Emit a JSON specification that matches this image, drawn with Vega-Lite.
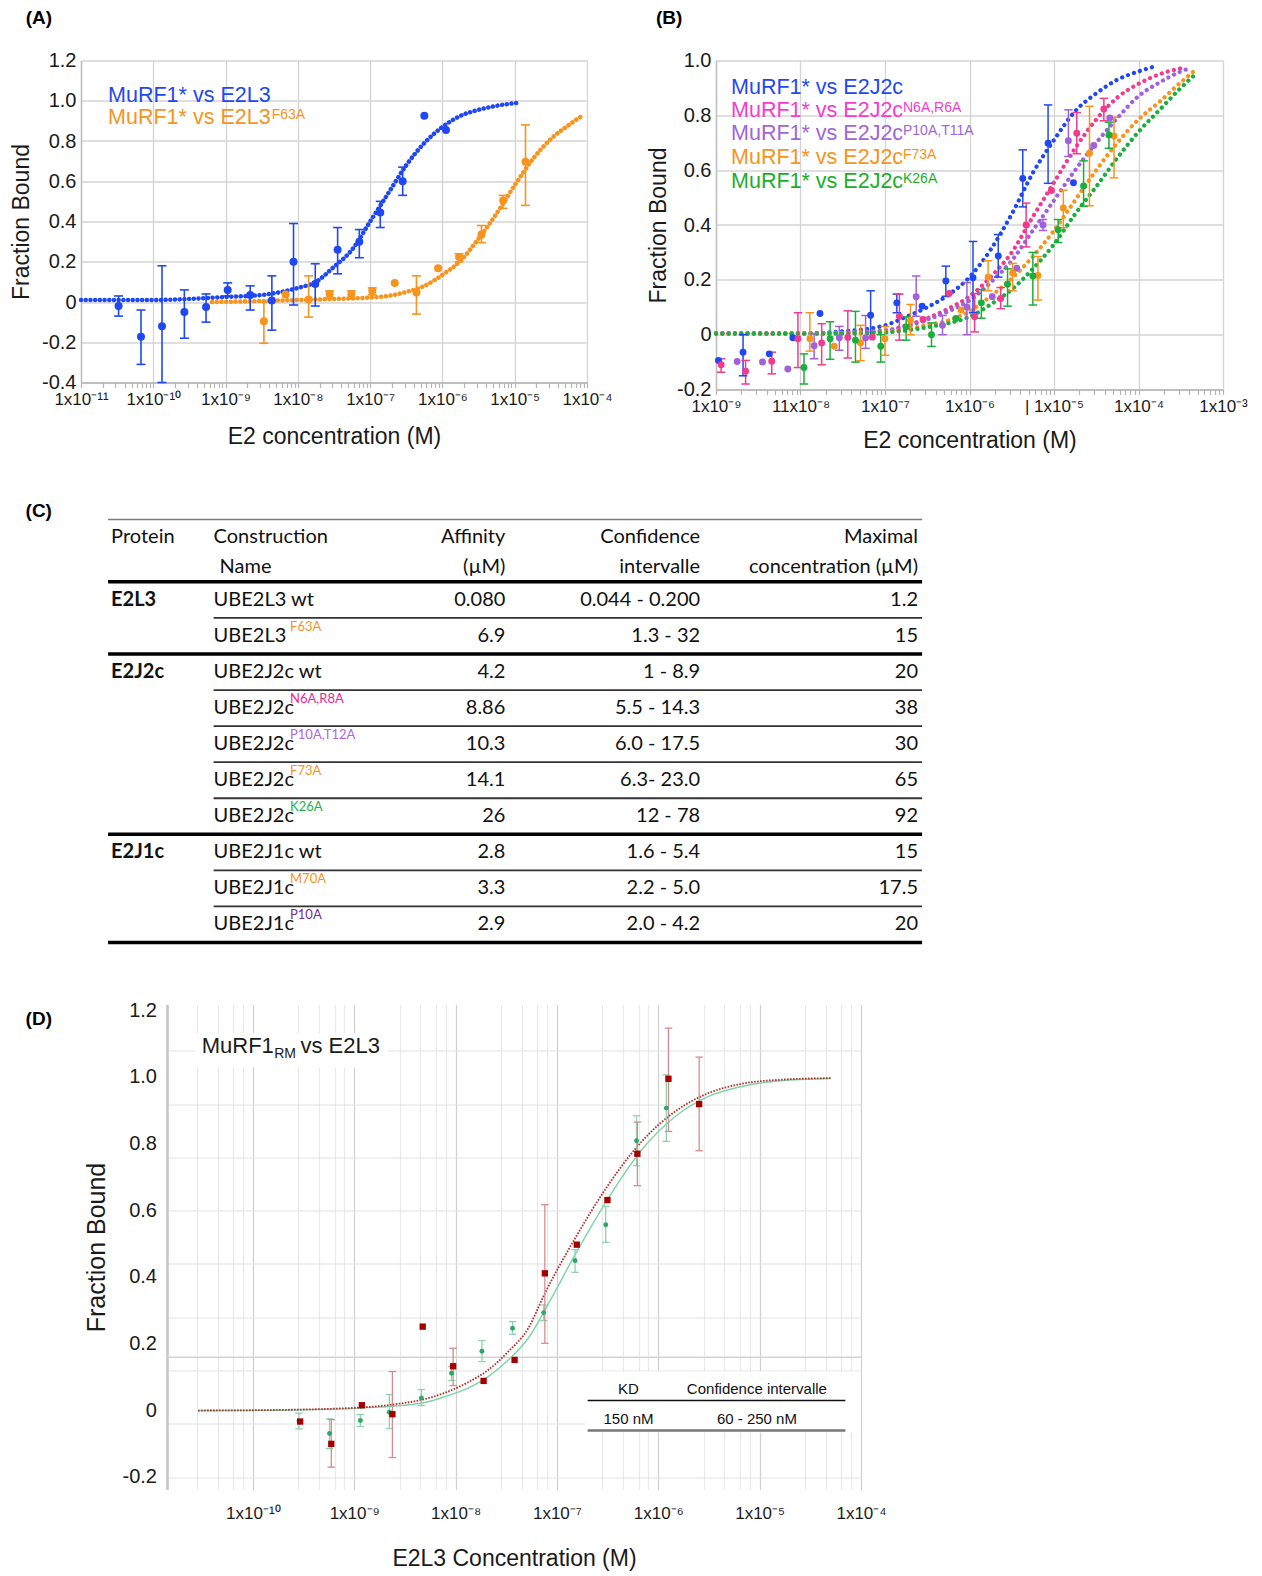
{
"$schema": "https://vega.github.io/schema/vega-lite/v6.json",
"background": "white",
"padding": {"left": 10, "top": 8.5, "right": 0, "bottom": 0},
"spacing": 49,
"columns": 1,
"resolve": {"scale": {"color": "independent", "x": "independent", "y": "independent"}},
"config": {
  "view": {"stroke": null},
  "font": "Liberation Sans",
  "axis": {"labelFont": "Liberation Sans", "titleFont": "Liberation Sans", "titleFontWeight": "normal", "labelColor": "#1a1a1a", "titleColor": "#1a1a1a", "labelOverlap": false, "labelFlush": false},
  "text": {"font": "Liberation Sans"}
},
"datasets": {
  "one": [{"k": 1}],
  "a_curve": [
    {"s":"E2L3","conc":1e-11,"f":0.01},{"s":"E2L3","conc":1e-10,"f":0.01},{"s":"E2L3","conc":3.162e-10,"f":0.015},{"s":"E2L3","conc":1e-9,"f":0.025},{"s":"E2L3","conc":3.162e-9,"f":0.035},{"s":"E2L3","conc":1e-8,"f":0.07},{"s":"E2L3","conc":1.778e-8,"f":0.1},{"s":"E2L3","conc":3.162e-8,"f":0.175},{"s":"E2L3","conc":5.623e-8,"f":0.26},{"s":"E2L3","conc":1e-7,"f":0.4},{"s":"E2L3","conc":1.778e-7,"f":0.54},{"s":"E2L3","conc":3.162e-7,"f":0.68},{"s":"E2L3","conc":5.623e-7,"f":0.79},{"s":"E2L3","conc":1e-6,"f":0.87},{"s":"E2L3","conc":1.778e-6,"f":0.925},{"s":"E2L3","conc":3.162e-6,"f":0.955},{"s":"E2L3","conc":5.623e-6,"f":0.975},{"s":"E2L3","conc":1e-5,"f":0.988},{"s":"E2L3","conc":1.122e-5,"f":0.99},
    {"s":"E2L3F63A","conc":6.5e-10,"f":0.0},{"s":"E2L3F63A","conc":3.162e-9,"f":0.005},{"s":"E2L3F63A","conc":1e-8,"f":0.01},{"s":"E2L3F63A","conc":3.162e-8,"f":0.015},{"s":"E2L3F63A","conc":1e-7,"f":0.022},{"s":"E2L3F63A","conc":1.778e-7,"f":0.03},{"s":"E2L3F63A","conc":3.162e-7,"f":0.05},{"s":"E2L3F63A","conc":5.623e-7,"f":0.08},{"s":"E2L3F63A","conc":1e-6,"f":0.135},{"s":"E2L3F63A","conc":1.778e-6,"f":0.205},{"s":"E2L3F63A","conc":3.162e-6,"f":0.315},{"s":"E2L3F63A","conc":5.623e-6,"f":0.44},{"s":"E2L3F63A","conc":1e-5,"f":0.58},{"s":"E2L3F63A","conc":1.778e-5,"f":0.71},{"s":"E2L3F63A","conc":3.162e-5,"f":0.81},{"s":"E2L3F63A","conc":5.623e-5,"f":0.88},{"s":"E2L3F63A","conc":8.913e-5,"f":0.93}
  ],
  "a_pts": [
    {"s":"E2L3","conc":3.31e-11,"f":-0.02,"lo":-0.07,"hi":0.03},
    {"s":"E2L3","conc":6.76e-11,"f":-0.173,"lo":-0.31,"hi":-0.04},
    {"s":"E2L3","conc":1.32e-10,"f":-0.12,"lo":-0.4,"hi":0.18},
    {"s":"E2L3","conc":2.69e-10,"f":-0.05,"lo":-0.18,"hi":0.06},
    {"s":"E2L3","conc":5.37e-10,"f":-0.025,"lo":-0.1,"hi":0.04},
    {"s":"E2L3","conc":1.07e-9,"f":0.06,"lo":0.03,"hi":0.095},
    {"s":"E2L3","conc":2.19e-9,"f":0.035,"lo":-0.04,"hi":0.08},
    {"s":"E2L3","conc":4.37e-9,"f":0.008,"lo":-0.14,"hi":0.13},
    {"s":"E2L3","conc":8.71e-9,"f":0.2,"lo":-0.015,"hi":0.39},
    {"s":"E2L3","conc":1.74e-8,"f":0.09,"lo":-0.02,"hi":0.19},
    {"s":"E2L3","conc":3.55e-8,"f":0.26,"lo":0.14,"hi":0.37},
    {"s":"E2L3","conc":7.08e-8,"f":0.3,"lo":0.22,"hi":0.36},
    {"s":"E2L3","conc":1.38e-7,"f":0.445,"lo":0.37,"hi":0.5},
    {"s":"E2L3","conc":2.82e-7,"f":0.6,"lo":0.53,"hi":0.67},
    {"s":"E2L3","conc":5.62e-7,"f":0.925},
    {"s":"E2L3","conc":1.12e-6,"f":0.855},
    {"s":"E2L3F63A","conc":3.39e-9,"f":-0.096,"lo":-0.205,"hi":0.0},
    {"s":"E2L3F63A","conc":6.76e-9,"f":0.037},
    {"s":"E2L3F63A","conc":1.41e-8,"f":0.012,"lo":-0.075,"hi":0.13},
    {"s":"E2L3F63A","conc":2.75e-8,"f":0.038,"lo":0.02,"hi":0.055},
    {"s":"E2L3F63A","conc":5.5e-8,"f":0.038,"lo":0.015,"hi":0.055},
    {"s":"E2L3F63A","conc":1.07e-7,"f":0.055,"lo":0.035,"hi":0.07},
    {"s":"E2L3F63A","conc":2.19e-7,"f":0.095},
    {"s":"E2L3F63A","conc":4.37e-7,"f":0.047,"lo":-0.06,"hi":0.13},
    {"s":"E2L3F63A","conc":8.71e-7,"f":0.168},
    {"s":"E2L3F63A","conc":1.7e-6,"f":0.223,"lo":0.2,"hi":0.24},
    {"s":"E2L3F63A","conc":3.47e-6,"f":0.336,"lo":0.295,"hi":0.38},
    {"s":"E2L3F63A","conc":6.92e-6,"f":0.504,"lo":0.465,"hi":0.53},
    {"s":"E2L3F63A","conc":1.41e-5,"f":0.697,"lo":0.48,"hi":0.88}
  ],
  "b_curve": [
    {"s":"wt","conc":1e-9,"f":0.005},{"s":"wt","conc":1e-8,"f":0.005},{"s":"wt","conc":3.162e-8,"f":0.012},{"s":"wt","conc":1e-7,"f":0.034},{"s":"wt","conc":1.778e-7,"f":0.065},{"s":"wt","conc":3.162e-7,"f":0.1},{"s":"wt","conc":5.623e-7,"f":0.145},{"s":"wt","conc":1e-6,"f":0.21},{"s":"wt","conc":1.778e-6,"f":0.31},{"s":"wt","conc":3.162e-6,"f":0.44},{"s":"wt","conc":5.623e-6,"f":0.59},{"s":"wt","conc":1e-5,"f":0.71},{"s":"wt","conc":1.778e-5,"f":0.815},{"s":"wt","conc":3.162e-5,"f":0.88},{"s":"wt","conc":5.623e-5,"f":0.93},{"s":"wt","conc":1e-4,"f":0.96},{"s":"wt","conc":1.62e-4,"f":0.98},
    {"s":"N6A","conc":1e-9,"f":0.005},{"s":"N6A","conc":1e-8,"f":0.005},{"s":"N6A","conc":3.162e-8,"f":0.007},{"s":"N6A","conc":1e-7,"f":0.015},{"s":"N6A","conc":1.778e-7,"f":0.034},{"s":"N6A","conc":3.162e-7,"f":0.06},{"s":"N6A","conc":5.623e-7,"f":0.095},{"s":"N6A","conc":1e-6,"f":0.14},{"s":"N6A","conc":1.778e-6,"f":0.21},{"s":"N6A","conc":3.162e-6,"f":0.3},{"s":"N6A","conc":5.623e-6,"f":0.43},{"s":"N6A","conc":1e-5,"f":0.555},{"s":"N6A","conc":1.778e-5,"f":0.68},{"s":"N6A","conc":3.162e-5,"f":0.785},{"s":"N6A","conc":5.623e-5,"f":0.865},{"s":"N6A","conc":1e-4,"f":0.915},{"s":"N6A","conc":1.778e-4,"f":0.95},{"s":"N6A","conc":3.55e-4,"f":0.975},
    {"s":"P10A","conc":1e-9,"f":0.005},{"s":"P10A","conc":1e-8,"f":0.005},{"s":"P10A","conc":3.162e-8,"f":0.008},{"s":"P10A","conc":1e-7,"f":0.015},{"s":"P10A","conc":1.778e-7,"f":0.03},{"s":"P10A","conc":3.162e-7,"f":0.055},{"s":"P10A","conc":5.623e-7,"f":0.085},{"s":"P10A","conc":1e-6,"f":0.125},{"s":"P10A","conc":1.778e-6,"f":0.19},{"s":"P10A","conc":3.162e-6,"f":0.27},{"s":"P10A","conc":5.623e-6,"f":0.38},{"s":"P10A","conc":1e-5,"f":0.49},{"s":"P10A","conc":1.778e-5,"f":0.6},{"s":"P10A","conc":3.162e-5,"f":0.7},{"s":"P10A","conc":5.623e-5,"f":0.79},{"s":"P10A","conc":1e-4,"f":0.87},{"s":"P10A","conc":1.778e-4,"f":0.92},{"s":"P10A","conc":3.162e-4,"f":0.96},{"s":"P10A","conc":3.89e-4,"f":0.97},
    {"s":"F73A","conc":1e-9,"f":0.003},{"s":"F73A","conc":1e-8,"f":0.004},{"s":"F73A","conc":3.162e-8,"f":0.005},{"s":"F73A","conc":1e-7,"f":0.01},{"s":"F73A","conc":1.778e-7,"f":0.02},{"s":"F73A","conc":3.162e-7,"f":0.035},{"s":"F73A","conc":5.623e-7,"f":0.052},{"s":"F73A","conc":1e-6,"f":0.085},{"s":"F73A","conc":1.778e-6,"f":0.14},{"s":"F73A","conc":3.162e-6,"f":0.205},{"s":"F73A","conc":5.623e-6,"f":0.285},{"s":"F73A","conc":1e-5,"f":0.38},{"s":"F73A","conc":1.778e-5,"f":0.49},{"s":"F73A","conc":3.162e-5,"f":0.6},{"s":"F73A","conc":5.623e-5,"f":0.7},{"s":"F73A","conc":1e-4,"f":0.785},{"s":"F73A","conc":1.778e-4,"f":0.85},{"s":"F73A","conc":3.162e-4,"f":0.92},{"s":"F73A","conc":4.9e-4,"f":0.97},
    {"s":"K26A","conc":1e-9,"f":0.003},{"s":"K26A","conc":1e-8,"f":0.003},{"s":"K26A","conc":3.162e-8,"f":0.004},{"s":"K26A","conc":1e-7,"f":0.008},{"s":"K26A","conc":1.778e-7,"f":0.015},{"s":"K26A","conc":3.162e-7,"f":0.027},{"s":"K26A","conc":5.623e-7,"f":0.042},{"s":"K26A","conc":1e-6,"f":0.065},{"s":"K26A","conc":1.778e-6,"f":0.11},{"s":"K26A","conc":3.162e-6,"f":0.165},{"s":"K26A","conc":5.623e-6,"f":0.24},{"s":"K26A","conc":1e-5,"f":0.33},{"s":"K26A","conc":1.778e-5,"f":0.44},{"s":"K26A","conc":3.162e-5,"f":0.54},{"s":"K26A","conc":5.623e-5,"f":0.645},{"s":"K26A","conc":1e-4,"f":0.74},{"s":"K26A","conc":1.778e-4,"f":0.82},{"s":"K26A","conc":3.162e-4,"f":0.9},{"s":"K26A","conc":4.9e-4,"f":0.955}
  ],
  "b_pts": [
    {"s":"wt","conc":1.07e-9,"f":-0.094},
    {"s":"wt","conc":2.09e-9,"f":-0.064,"lo":-0.15,"hi":0.0},
    {"s":"wt","conc":4.27e-9,"f":-0.07},
    {"s":"wt","conc":8.13e-9,"f":-0.011},
    {"s":"wt","conc":1.7e-8,"f":0.077},
    {"s":"wt","conc":6.76e-8,"f":0.071,"lo":-0.01,"hi":0.16},
    {"s":"wt","conc":1.38e-7,"f":0.116,"lo":0.08,"hi":0.148},
    {"s":"wt","conc":2.75e-7,"f":0.104},
    {"s":"wt","conc":5.25e-7,"f":0.196,"lo":0.14,"hi":0.25},
    {"s":"wt","conc":1.1e-6,"f":0.208,"lo":0.08,"hi":0.34},
    {"s":"wt","conc":2.19e-6,"f":0.287,"lo":0.21,"hi":0.365},
    {"s":"wt","conc":4.27e-6,"f":0.57,"lo":0.466,"hi":0.674},
    {"s":"wt","conc":8.51e-6,"f":0.698,"lo":0.552,"hi":0.838},
    {"s":"wt","conc":1.7e-5,"f":0.554},
    {"s":"N6A","conc":1.15e-9,"f":-0.11,"lo":-0.137,"hi":-0.088},
    {"s":"N6A","conc":2.24e-9,"f":-0.133,"lo":-0.18,"hi":-0.094},
    {"s":"N6A","conc":4.57e-9,"f":-0.097,"lo":-0.143,"hi":-0.064},
    {"s":"N6A","conc":9.33e-9,"f":-0.015,"lo":-0.12,"hi":0.08},
    {"s":"N6A","conc":1.78e-8,"f":-0.03,"lo":-0.11,"hi":0.04},
    {"s":"N6A","conc":3.63e-8,"f":-0.01,"lo":-0.085,"hi":0.087},
    {"s":"N6A","conc":7.08e-8,"f":-0.009},
    {"s":"N6A","conc":1.48e-7,"f":0.067,"lo":-0.02,"hi":0.148},
    {"s":"N6A","conc":2.82e-7,"f":0.055},
    {"s":"N6A","conc":5.75e-7,"f":0.15},
    {"s":"N6A","conc":1.15e-6,"f":0.065,"lo":0.01,"hi":0.15},
    {"s":"N6A","conc":2.34e-6,"f":0.132,"lo":0.095,"hi":0.172},
    {"s":"N6A","conc":4.68e-6,"f":0.4,"lo":0.32,"hi":0.48},
    {"s":"N6A","conc":9.33e-6,"f":0.526},
    {"s":"N6A","conc":1.86e-5,"f":0.735,"lo":0.66,"hi":0.81},
    {"s":"N6A","conc":3.89e-5,"f":0.823,"lo":0.78,"hi":0.862},
    {"s":"P10A","conc":1.78e-9,"f":-0.098},
    {"s":"P10A","conc":3.55e-9,"f":-0.1},
    {"s":"P10A","conc":7.08e-9,"f":-0.125},
    {"s":"P10A","conc":1.45e-8,"f":-0.04,"lo":-0.088,"hi":0.004},
    {"s":"P10A","conc":2.88e-8,"f":-0.011,"lo":-0.057,"hi":0.03},
    {"s":"P10A","conc":5.89e-8,"f":-0.012,"lo":-0.05,"hi":0.07},
    {"s":"P10A","conc":2.34e-7,"f":0.138,"lo":0.067,"hi":0.214},
    {"s":"P10A","conc":4.79e-7,"f":0.034,"lo":0.0,"hi":0.07},
    {"s":"P10A","conc":9.33e-7,"f":0.1,"lo":0.0,"hi":0.19},
    {"s":"P10A","conc":1.86e-6,"f":0.138},
    {"s":"P10A","conc":3.63e-6,"f":0.242},
    {"s":"P10A","conc":7.41e-6,"f":0.4,"lo":0.38,"hi":0.42},
    {"s":"P10A","conc":1.48e-5,"f":0.707,"lo":0.65,"hi":0.82},
    {"s":"P10A","conc":2.95e-5,"f":0.69},
    {"s":"P10A","conc":4.57e-5,"f":0.79},
    {"s":"F73A","conc":1.29e-8,"f":-0.015,"lo":-0.06,"hi":0.08},
    {"s":"F73A","conc":2.51e-8,"f":-0.042},
    {"s":"F73A","conc":5.13e-8,"f":-0.03,"lo":-0.095,"hi":0.034},
    {"s":"F73A","conc":1e-7,"f":-0.015,"lo":-0.075,"hi":0.03},
    {"s":"F73A","conc":2e-7,"f":0.053,"lo":0.0,"hi":0.11},
    {"s":"F73A","conc":7.94e-7,"f":0.09},
    {"s":"F73A","conc":1.66e-6,"f":0.21,"lo":0.16,"hi":0.27},
    {"s":"F73A","conc":3.24e-6,"f":0.225,"lo":0.16,"hi":0.26},
    {"s":"F73A","conc":6.46e-6,"f":0.216,"lo":0.126,"hi":0.285},
    {"s":"F73A","conc":1.29e-5,"f":0.462,"lo":0.39,"hi":0.527},
    {"s":"F73A","conc":2.63e-5,"f":0.662,"lo":0.47,"hi":0.833},
    {"s":"F73A","conc":5.13e-5,"f":0.725,"lo":0.572,"hi":0.793},
    {"s":"K26A","conc":1.1e-8,"f":-0.12,"lo":-0.18,"hi":-0.07},
    {"s":"K26A","conc":2.24e-8,"f":-0.015,"lo":-0.09,"hi":0.047},
    {"s":"K26A","conc":4.47e-8,"f":-0.02,"lo":-0.1,"hi":0.085},
    {"s":"K26A","conc":8.91e-8,"f":-0.042,"lo":-0.1,"hi":0.0},
    {"s":"K26A","conc":1.78e-7,"f":0.028,"lo":-0.02,"hi":0.065},
    {"s":"K26A","conc":3.55e-7,"f":0.0,"lo":-0.043,"hi":0.043},
    {"s":"K26A","conc":6.92e-7,"f":0.059},
    {"s":"K26A","conc":1.38e-6,"f":0.116,"lo":0.06,"hi":0.165},
    {"s":"K26A","conc":2.82e-6,"f":0.184,"lo":0.104,"hi":0.24},
    {"s":"K26A","conc":5.62e-6,"f":0.214,"lo":0.108,"hi":0.3},
    {"s":"K26A","conc":1.12e-5,"f":0.383,"lo":0.336,"hi":0.42},
    {"s":"K26A","conc":2.24e-5,"f":0.542,"lo":0.468,"hi":0.634},
    {"s":"K26A","conc":4.47e-5,"f":0.728,"lo":0.68,"hi":0.775}
  ],
  "c_rows": [
    {"row":1,"protein":"E2L3","construct":"UBE2L3 wt","mut":"","aff":"0.080","ci":"0.044 - 0.200","maxc":"1.2","sep":"thin"},
    {"row":2,"protein":"","construct":"UBE2L3","mut":"F63A","aff":"6.9","ci":"1.3 - 32","maxc":"15","sep":"thick"},
    {"row":3,"protein":"E2J2c","construct":"UBE2J2c wt","mut":"","aff":"4.2","ci":"1 - 8.9","maxc":"20","sep":"thin"},
    {"row":4,"protein":"","construct":"UBE2J2c","mut":"N6A,R8A","aff":"8.86","ci":"5.5 - 14.3","maxc":"38","sep":"thin"},
    {"row":5,"protein":"","construct":"UBE2J2c","mut":"P10A,T12A","aff":"10.3","ci":"6.0 - 17.5","maxc":"30","sep":"thin"},
    {"row":6,"protein":"","construct":"UBE2J2c","mut":"F73A","aff":"14.1","ci":"6.3- 23.0","maxc":"65","sep":"thin"},
    {"row":7,"protein":"","construct":"UBE2J2c","mut":" K26A","aff":"26","ci":"12 - 78","maxc":"92","sep":"thick"},
    {"row":8,"protein":"E2J1c","construct":"UBE2J1c wt","mut":"","aff":"2.8","ci":"1.6 - 5.4","maxc":"15","sep":"thin"},
    {"row":9,"protein":"","construct":"UBE2J1c","mut":"M70A","aff":"3.3","ci":"2.2 - 5.0","maxc":"17.5","sep":"thin"},
    {"row":10,"protein":"","construct":"UBE2J1c","mut":" P10A","aff":"2.9","ci":"2.0 - 4.2","maxc":"20","sep":"thick"}
  ],
  "d_curve": [
    {"s":"r","conc":2.88e-11,"f":0.0},{"s":"r","conc":1.91e-10,"f":0.002},{"s":"r","conc":1.26e-9,"f":0.01},{"s":"r","conc":2.71e-9,"f":0.02},{"s":"r","conc":4.6e-9,"f":0.032},{"s":"r","conc":8.45e-9,"f":0.057},{"s":"r","conc":1.33e-8,"f":0.085},{"s":"r","conc":2.1e-8,"f":0.122},{"s":"r","conc":3.31e-8,"f":0.177},{"s":"r","conc":5.21e-8,"f":0.247},{"s":"r","conc":7.6e-8,"f":0.352},{"s":"r","conc":1.51e-7,"f":0.517},{"s":"r","conc":3.22e-7,"f":0.678},{"s":"r","conc":6.87e-7,"f":0.808},{"s":"r","conc":1.47e-6,"f":0.898},{"s":"r","conc":3.13e-6,"f":0.953},{"s":"r","conc":6.68e-6,"f":0.981},{"s":"r","conc":1.58e-5,"f":0.993},{"s":"r","conc":5.01e-5,"f":0.998},
    {"s":"g","conc":2.88e-11,"f":0.0},{"s":"g","conc":1.91e-10,"f":0.001},{"s":"g","conc":1.26e-9,"f":0.008},{"s":"g","conc":4.6e-9,"f":0.022},{"s":"g","conc":8.45e-9,"f":0.045},{"s":"g","conc":1.33e-8,"f":0.067},{"s":"g","conc":2.1e-8,"f":0.102},{"s":"g","conc":3.31e-8,"f":0.152},{"s":"g","conc":5.21e-8,"f":0.217},{"s":"g","conc":8.22e-8,"f":0.32},{"s":"g","conc":1.51e-7,"f":0.468},{"s":"g","conc":3.22e-7,"f":0.638},{"s":"g","conc":6.87e-7,"f":0.783},{"s":"g","conc":1.47e-6,"f":0.883},{"s":"g","conc":3.13e-6,"f":0.943},{"s":"g","conc":6.68e-6,"f":0.973},{"s":"g","conc":1.58e-5,"f":0.99},{"s":"g","conc":5.01e-5,"f":0.997}
  ],
  "d_pts": [
    {"s":"g","conc":2.85e-10,"f":-0.031,"lo":-0.055,"hi":-0.008},
    {"s":"g","conc":5.71e-10,"f":-0.069,"lo":-0.114,"hi":-0.025},
    {"s":"g","conc":1.15e-9,"f":-0.03,"lo":-0.048,"hi":-0.012},
    {"s":"g","conc":2.22e-9,"f":-0.005,"lo":-0.054,"hi":0.048},
    {"s":"g","conc":4.6e-9,"f":0.038,"lo":0.015,"hi":0.063},
    {"s":"g","conc":9.12e-9,"f":0.112,"lo":0.09,"hi":0.132},
    {"s":"g","conc":1.82e-8,"f":0.178,"lo":0.147,"hi":0.21},
    {"s":"g","conc":3.65e-8,"f":0.247,"lo":0.229,"hi":0.267},
    {"s":"g","conc":7.4e-8,"f":0.294,"lo":0.27,"hi":0.317},
    {"s":"g","conc":1.51e-7,"f":0.45,"lo":0.415,"hi":0.483},
    {"s":"g","conc":3.03e-7,"f":0.558,"lo":0.505,"hi":0.613},
    {"s":"g","conc":6.1e-7,"f":0.81,"lo":0.735,"hi":0.885},
    {"s":"g","conc":1.2e-6,"f":0.908,"lo":0.808,"hi":1.008},
    {"s":"r","conc":2.93e-10,"f":-0.033},
    {"s":"r","conc":5.94e-10,"f":-0.1,"lo":-0.17,"hi":-0.027},
    {"s":"r","conc":1.19e-9,"f":0.016},
    {"s":"r","conc":2.38e-9,"f":-0.011,"lo":-0.141,"hi":0.117},
    {"s":"r","conc":4.74e-9,"f":0.252},
    {"s":"r","conc":9.46e-9,"f":0.133,"lo":0.075,"hi":0.187},
    {"s":"r","conc":1.89e-8,"f":0.089},
    {"s":"r","conc":3.82e-8,"f":0.152},
    {"s":"r","conc":7.6e-8,"f":0.412,"lo":0.202,"hi":0.618},
    {"s":"r","conc":1.57e-7,"f":0.498},
    {"s":"r","conc":3.15e-7,"f":0.632},
    {"s":"r","conc":6.22e-7,"f":0.771,"lo":0.675,"hi":0.866},
    {"s":"r","conc":1.26e-6,"f":0.996,"lo":0.838,"hi":1.148},
    {"s":"r","conc":2.53e-6,"f":0.92,"lo":0.78,"hi":1.061}
  ]
},
"concat": [
{
  "spacing": 34,
  "resolve": {"scale": {"color": "independent", "x": "independent", "y": "independent"}},
  "hconcat": [
  {
    "width": 506, "height": 322,
    "layer": [
      {"data": {"name": "a_curve"}, "mark": {"type": "line", "strokeWidth": 4.5, "strokeDash": [0.1, 4.6], "strokeCap": "round", "interpolate": "monotone"},
       "encoding": {
        "x": {"field": "conc", "type": "quantitative", "scale": {"type": "log", "domain": [1e-11, 1e-4], "nice": false},
          "axis": {"title": "E2 concentration (M)", "titleFontSize": 23, "titlePadding": 18, "labelOverlap": false,
            "values": [1e-11,2e-11,3e-11,4e-11,5e-11,6e-11,7e-11,8e-11,9e-11,1e-10,2e-10,3e-10,4e-10,5e-10,6e-10,7e-10,8e-10,9e-10,1e-9,2e-9,3e-9,4e-9,5e-9,6e-9,7e-9,8e-9,9e-9,1e-8,2e-8,3e-8,4e-8,5e-8,6e-8,7e-8,8e-8,9e-8,1e-7,2e-7,3e-7,4e-7,5e-7,6e-7,7e-7,8e-7,9e-7,1e-6,2e-6,3e-6,4e-6,5e-6,6e-6,7e-6,8e-6,9e-6,1e-5,2e-5,3e-5,4e-5,5e-5,6e-5,7e-5,8e-5,9e-5,1e-4],
            "labelExpr": "abs(log(datum.value)/LN10 - round(log(datum.value)/LN10)) > 0.01 ? '' : ['','','','','1x10⁻⁴','1x10⁻⁵','1x10⁻⁶','1x10⁻⁷','1x10⁻⁸','1x10⁻⁹','1x10⁻¹⁰','1x10⁻¹¹'][round(-log(datum.value)/LN10)]",
            "labelFontSize": 17, "labelPadding": 4, "tickSize": 5, "tickColor": "#b5b5b5", "tickWidth": 1.2,
            "domainColor": "#b5b5b5", "domainWidth": 1.5, "grid": true, "gridColor": "#d4d4d4", "gridWidth": 1.3,
            "gridOpacity": {"condition": {"test": "abs(log(datum.value)/LN10 - round(log(datum.value)/LN10)) < 0.01", "value": 1}, "value": 0}}},
        "y": {"field": "f", "type": "quantitative", "scale": {"domain": [-0.4, 1.2], "nice": false, "zero": false},
          "axis": {"title": "Fraction Bound", "titleFontSize": 23, "titlePadding": 8, "labelOverlap": false, "values": [-0.4,-0.2,0,0.2,0.4,0.6,0.8,1,1.2],
            "labelExpr": "datum.value == 0 ? '0' : replace(format(datum.value, '.1f'), '−', '-')",
            "labelFontSize": 20, "labelPadding": 5, "ticks": false, "domainColor": "#c0c0c0", "domainWidth": 1.5,
            "grid": true, "gridColor": "#d4d4d4", "gridWidth": 1.3}},
        "color": {"field": "s", "type": "nominal", "scale": {"domain": ["E2L3", "E2L3F63A"], "range": ["#1f48f2", "#f7941d"]}, "legend": null}
       }},
      {"data": {"name": "a_pts"}, "transform": [{"filter": "isValid(datum.lo)"}], "mark": {"type": "rule", "strokeWidth": 1.6},
       "encoding": {"x": {"field": "conc", "type": "quantitative", "scale": {"type": "log", "domain": [1e-11, 1e-4], "nice": false}}, "y": {"field": "lo", "type": "quantitative", "scale": {"domain": [-0.4, 1.2], "nice": false, "zero": false}}, "y2": {"field": "hi"}, "color": {"field": "s", "type": "nominal", "scale": {"domain": ["E2L3", "E2L3F63A"], "range": ["#1f48f2", "#f7941d"]}, "legend": null}}},
      {"data": {"name": "a_pts"}, "transform": [{"filter": "isValid(datum.lo)"}], "mark": {"type": "point", "shape": "M-1,0H1", "filled": false, "size": 81, "strokeWidth": 1.6, "opacity": 1},
       "encoding": {"x": {"field": "conc", "type": "quantitative", "scale": {"type": "log", "domain": [1e-11, 1e-4], "nice": false}}, "y": {"field": "lo", "type": "quantitative", "scale": {"domain": [-0.4, 1.2], "nice": false, "zero": false}}, "color": {"field": "s", "type": "nominal", "scale": {"domain": ["E2L3", "E2L3F63A"], "range": ["#1f48f2", "#f7941d"]}, "legend": null}}},
      {"data": {"name": "a_pts"}, "transform": [{"filter": "isValid(datum.hi)"}], "mark": {"type": "point", "shape": "M-1,0H1", "filled": false, "size": 81, "strokeWidth": 1.6, "opacity": 1},
       "encoding": {"x": {"field": "conc", "type": "quantitative", "scale": {"type": "log", "domain": [1e-11, 1e-4], "nice": false}}, "y": {"field": "hi", "type": "quantitative", "scale": {"domain": [-0.4, 1.2], "nice": false, "zero": false}}, "color": {"field": "s", "type": "nominal", "scale": {"domain": ["E2L3", "E2L3F63A"], "range": ["#1f48f2", "#f7941d"]}, "legend": null}}},
      {"data": {"name": "a_pts"}, "mark": {"type": "circle", "size": 64, "opacity": 1},
       "encoding": {"x": {"field": "conc", "type": "quantitative", "scale": {"type": "log", "domain": [1e-11, 1e-4], "nice": false}}, "y": {"field": "f", "type": "quantitative", "scale": {"domain": [-0.4, 1.2], "nice": false, "zero": false}}, "color": {"field": "s", "type": "nominal", "scale": {"domain": ["E2L3", "E2L3F63A"], "range": ["#1f48f2", "#f7941d"]}, "legend": null}}},
      {"data": {"name": "one"}, "mark": {"type": "text", "align": "left", "baseline": "middle", "fontSize": 21.5, "color": "#1f48f2"}, "encoding": {"x": {"datum": 2.37e-11, "type": "quantitative"}, "y": {"datum": 1.023, "type": "quantitative"}, "text": {"value": "MuRF1* vs E2L3"}}},
      {"data": {"name": "one"}, "mark": {"type": "text", "align": "left", "baseline": "middle", "fontSize": 21.5, "color": "#f7941d"}, "encoding": {"x": {"datum": 2.37e-11, "type": "quantitative"}, "y": {"datum": 0.915, "type": "quantitative"}, "text": {"value": "MuRF1* vs E2L3"}}},
      {"data": {"name": "one"}, "mark": {"type": "text", "align": "left", "baseline": "middle", "fontSize": 14, "color": "#f7941d"}, "encoding": {"x": {"datum": 4.34e-9, "type": "quantitative"}, "y": {"datum": 0.931, "type": "quantitative"}, "text": {"value": "F63A"}}},
      {"data": {"name": "one"}, "mark": {"type": "text", "align": "left", "baseline": "middle", "fontSize": 19, "fontWeight": "bold", "color": "#000000"}, "encoding": {"x": {"datum": 1.714e-12, "type": "quantitative"}, "y": {"datum": 1.41, "type": "quantitative"}, "text": {"value": "(A)"}}}
    ]
  },
  {
    "width": 507, "height": 329,
    "layer": [
      {"data": {"name": "b_curve"}, "mark": {"type": "line", "strokeWidth": 4.2, "strokeDash": [0.1, 6.2], "strokeCap": "round", "interpolate": "monotone"},
       "encoding": {
        "x": {"field": "conc", "type": "quantitative", "scale": {"type": "log", "domain": [1e-9, 1e-3], "nice": false},
          "axis": {"title": "E2 concentration (M)", "titleFontSize": 23, "titlePadding": 15, "labelOverlap": false,
            "values": [1e-9,2e-9,3e-9,4e-9,5e-9,6e-9,7e-9,8e-9,9e-9,1e-8,2e-8,3e-8,4e-8,5e-8,6e-8,7e-8,8e-8,9e-8,1e-7,2e-7,3e-7,4e-7,5e-7,6e-7,7e-7,8e-7,9e-7,1e-6,2e-6,3e-6,4e-6,5e-6,6e-6,7e-6,8e-6,9e-6,1e-5,2e-5,3e-5,4e-5,5e-5,6e-5,7e-5,8e-5,9e-5,1e-4,2e-4,3e-4,4e-4,5e-4,6e-4,7e-4,8e-4,9e-4,1e-3],
            "labelExpr": "abs(log(datum.value)/LN10 - round(log(datum.value)/LN10)) > 0.01 ? '' : ['','','','1x10⁻³','1x10⁻⁴','| 1x10⁻⁵','1x10⁻⁶','1x10⁻⁷','11x10⁻⁸','1x10⁻⁹'][round(-log(datum.value)/LN10)]",
            "labelFontSize": 17, "labelPadding": 4, "tickSize": 5, "tickColor": "#b5b5b5", "tickWidth": 1.2,
            "domainColor": "#b5b5b5", "domainWidth": 1.5, "grid": true, "gridColor": "#d4d4d4", "gridWidth": 1.3,
            "gridOpacity": {"condition": {"test": "abs(log(datum.value)/LN10 - round(log(datum.value)/LN10)) < 0.01", "value": 1}, "value": 0}}},
        "y": {"field": "f", "type": "quantitative", "scale": {"domain": [-0.2, 1.0], "nice": false, "zero": false},
          "axis": {"title": "Fraction Bound", "titleFontSize": 23, "titlePadding": 6, "labelOverlap": false, "values": [-0.2,0,0.2,0.4,0.6,0.8,1],
            "labelExpr": "datum.value == 0 ? '0' : replace(format(datum.value, '.1f'), '−', '-')",
            "labelFontSize": 20, "labelPadding": 5, "ticks": false, "domainColor": "#c0c0c0", "domainWidth": 1.5,
            "grid": true, "gridColor": "#d4d4d4", "gridWidth": 1.3}},
        "color": {"field": "s", "type": "nominal", "scale": {"domain": ["wt", "N6A", "P10A", "F73A", "K26A"], "range": ["#1f48f2", "#f23a8f", "#a161dc", "#f7941d", "#1aae3c"]}, "legend": null}
       }},
      {"data": {"name": "b_pts"}, "transform": [{"filter": "isValid(datum.lo)"}], "mark": {"type": "rule", "strokeWidth": 1.5},
       "encoding": {"x": {"field": "conc", "type": "quantitative", "scale": {"type": "log", "domain": [1e-9, 1e-3], "nice": false}}, "y": {"field": "lo", "type": "quantitative", "scale": {"domain": [-0.2, 1.0], "nice": false, "zero": false}}, "y2": {"field": "hi"}, "color": {"field": "s", "type": "nominal", "scale": {"domain": ["wt", "N6A", "P10A", "F73A", "K26A"], "range": ["#1f48f2", "#f23a8f", "#a161dc", "#f7941d", "#1aae3c"]}, "legend": null}}},
      {"data": {"name": "b_pts"}, "transform": [{"filter": "isValid(datum.lo)"}], "mark": {"type": "point", "shape": "M-1,0H1", "filled": false, "size": 72, "strokeWidth": 1.5, "opacity": 1},
       "encoding": {"x": {"field": "conc", "type": "quantitative", "scale": {"type": "log", "domain": [1e-9, 1e-3], "nice": false}}, "y": {"field": "lo", "type": "quantitative", "scale": {"domain": [-0.2, 1.0], "nice": false, "zero": false}}, "color": {"field": "s", "type": "nominal", "scale": {"domain": ["wt", "N6A", "P10A", "F73A", "K26A"], "range": ["#1f48f2", "#f23a8f", "#a161dc", "#f7941d", "#1aae3c"]}, "legend": null}}},
      {"data": {"name": "b_pts"}, "transform": [{"filter": "isValid(datum.hi)"}], "mark": {"type": "point", "shape": "M-1,0H1", "filled": false, "size": 72, "strokeWidth": 1.5, "opacity": 1},
       "encoding": {"x": {"field": "conc", "type": "quantitative", "scale": {"type": "log", "domain": [1e-9, 1e-3], "nice": false}}, "y": {"field": "hi", "type": "quantitative", "scale": {"domain": [-0.2, 1.0], "nice": false, "zero": false}}, "color": {"field": "s", "type": "nominal", "scale": {"domain": ["wt", "N6A", "P10A", "F73A", "K26A"], "range": ["#1f48f2", "#f23a8f", "#a161dc", "#f7941d", "#1aae3c"]}, "legend": null}}},
      {"data": {"name": "b_pts"}, "mark": {"type": "circle", "size": 48, "opacity": 1},
       "encoding": {"x": {"field": "conc", "type": "quantitative", "scale": {"type": "log", "domain": [1e-9, 1e-3], "nice": false}}, "y": {"field": "f", "type": "quantitative", "scale": {"domain": [-0.2, 1.0], "nice": false, "zero": false}}, "color": {"field": "s", "type": "nominal", "scale": {"domain": ["wt", "N6A", "P10A", "F73A", "K26A"], "range": ["#1f48f2", "#f23a8f", "#a161dc", "#f7941d", "#1aae3c"]}, "legend": null}}},
      {"data": {"name": "one"}, "mark": {"type": "text", "align": "left", "baseline": "middle", "fontSize": 21.5, "color": "#1f48f2"}, "encoding": {"x": {"datum": 1.507e-9, "type": "quantitative"}, "y": {"datum": 0.899, "type": "quantitative"}, "text": {"value": "MuRF1* vs E2J2c"}}},
      {"data": {"name": "one"}, "mark": {"type": "text", "align": "left", "baseline": "middle", "fontSize": 21.5, "color": "#f53ccf"}, "encoding": {"x": {"datum": 1.507e-9, "type": "quantitative"}, "y": {"datum": 0.815, "type": "quantitative"}, "text": {"value": "MuRF1* vs E2J2c"}}},
      {"data": {"name": "one"}, "mark": {"type": "text", "align": "left", "baseline": "middle", "fontSize": 21.5, "color": "#9e66d8"}, "encoding": {"x": {"datum": 1.507e-9, "type": "quantitative"}, "y": {"datum": 0.731, "type": "quantitative"}, "text": {"value": "MuRF1* vs E2J2c"}}},
      {"data": {"name": "one"}, "mark": {"type": "text", "align": "left", "baseline": "middle", "fontSize": 21.5, "color": "#f7941d"}, "encoding": {"x": {"datum": 1.507e-9, "type": "quantitative"}, "y": {"datum": 0.644, "type": "quantitative"}, "text": {"value": "MuRF1* vs E2J2c"}}},
      {"data": {"name": "one"}, "mark": {"type": "text", "align": "left", "baseline": "middle", "fontSize": 21.5, "color": "#1aae2c"}, "encoding": {"x": {"datum": 1.507e-9, "type": "quantitative"}, "y": {"datum": 0.556, "type": "quantitative"}, "text": {"value": "MuRF1* vs E2J2c"}}},
      {"data": {"name": "one"}, "mark": {"type": "text", "align": "left", "baseline": "middle", "fontSize": 14, "color": "#f53ccf"}, "encoding": {"x": {"datum": 1.633e-7, "type": "quantitative"}, "y": {"datum": 0.828, "type": "quantitative"}, "text": {"value": "N6A,R6A"}}},
      {"data": {"name": "one"}, "mark": {"type": "text", "align": "left", "baseline": "middle", "fontSize": 14, "color": "#9e66d8"}, "encoding": {"x": {"datum": 1.633e-7, "type": "quantitative"}, "y": {"datum": 0.744, "type": "quantitative"}, "text": {"value": "P10A,T11A"}}},
      {"data": {"name": "one"}, "mark": {"type": "text", "align": "left", "baseline": "middle", "fontSize": 14, "color": "#f7941d"}, "encoding": {"x": {"datum": 1.633e-7, "type": "quantitative"}, "y": {"datum": 0.656, "type": "quantitative"}, "text": {"value": "F73A"}}},
      {"data": {"name": "one"}, "mark": {"type": "text", "align": "left", "baseline": "middle", "fontSize": 14, "color": "#1aae2c"}, "encoding": {"x": {"datum": 1.633e-7, "type": "quantitative"}, "y": {"datum": 0.569, "type": "quantitative"}, "text": {"value": "K26A"}}},
      {"data": {"name": "one"}, "mark": {"type": "text", "align": "left", "baseline": "middle", "fontSize": 19, "fontWeight": "bold", "color": "#000000"}, "encoding": {"x": {"datum": 1.95e-10, "type": "quantitative"}, "y": {"datum": 1.154, "type": "quantitative"}, "text": {"value": "(B)"}}}
    ]
  }
  ]
},
{
  "width": 841.1, "height": 423,
  "layer": [
    {"data": {"name": "c_rows"}, "transform": [{"filter": "datum.protein != ''"}], "mark": {"type": "text", "align": "left", "baseline": "middle", "font": "Lato", "fontSize": 20, "fontWeight": "bold", "color": "#111111"}, "encoding": {"x": {"datum": 0.37, "type": "quantitative", "scale": {"domain": [-3.329, 100], "nice": false, "zero": false}, "axis": null}, "y": {"field": "row", "type": "quantitative", "scale": {"domain": [-1.228, 10.5], "reverse": true, "nice": false, "zero": false}, "axis": null}, "text": {"field": "protein"}}},
    {"data": {"name": "c_rows"}, "mark": {"type": "text", "align": "left", "baseline": "middle", "font": "Lato", "fontSize": 20, "color": "#111111"}, "encoding": {"x": {"datum": 12.96, "type": "quantitative", "axis": null}, "y": {"field": "row", "type": "quantitative", "axis": null}, "text": {"field": "construct"}}},
    {"data": {"name": "c_rows"}, "transform": [{"filter": "datum.mut != ''"}], "mark": {"type": "text", "align": "left", "baseline": "middle", "font": "Lato", "fontSize": 13, "dy": -9}, "encoding": {"x": {"datum": 22.35, "type": "quantitative", "axis": null}, "y": {"field": "row", "type": "quantitative", "axis": null}, "text": {"field": "mut"}, "color": {"field": "mut", "type": "nominal", "scale": {"domain": ["F63A", "N6A,R8A", "P10A,T12A", "F73A", " K26A", "M70A", " P10A"], "range": ["#f7941d", "#f0288c", "#b366e0", "#f7941d", "#22b14c", "#f7941d", "#7030a0"]}, "legend": null}}},
    {"data": {"name": "c_rows"}, "mark": {"type": "text", "align": "right", "baseline": "middle", "font": "Lato", "fontSize": 20, "color": "#111111"}, "encoding": {"x": {"datum": 48.8, "type": "quantitative", "axis": null}, "y": {"field": "row", "type": "quantitative", "axis": null}, "text": {"field": "aff"}}},
    {"data": {"name": "c_rows"}, "mark": {"type": "text", "align": "right", "baseline": "middle", "font": "Lato", "fontSize": 20, "color": "#111111"}, "encoding": {"x": {"datum": 72.73, "type": "quantitative", "axis": null}, "y": {"field": "row", "type": "quantitative", "axis": null}, "text": {"field": "ci"}}},
    {"data": {"name": "c_rows"}, "mark": {"type": "text", "align": "right", "baseline": "middle", "font": "Lato", "fontSize": 20, "color": "#111111"}, "encoding": {"x": {"datum": 99.5, "type": "quantitative", "axis": null}, "y": {"field": "row", "type": "quantitative", "axis": null}, "text": {"field": "maxc"}}},
    {"data": {"name": "c_rows"}, "transform": [{"filter": "datum.sep == 'thin'"}], "mark": {"type": "rule", "yOffset": 18.04, "stroke": "#333333", "strokeWidth": 1.8}, "encoding": {"x": {"datum": 12.96, "type": "quantitative", "axis": null}, "x2": {"datum": 100}, "y": {"field": "row", "type": "quantitative", "axis": null}}},
    {"data": {"name": "c_rows"}, "transform": [{"filter": "datum.sep == 'thick'"}], "mark": {"type": "rule", "yOffset": 18.04, "stroke": "#000000", "strokeWidth": 3.5}, "encoding": {"x": {"datum": 0, "type": "quantitative", "axis": null}, "x2": {"datum": 100}, "y": {"field": "row", "type": "quantitative", "axis": null}}},
    {"data": {"name": "one"}, "mark": {"type": "rule", "stroke": "#7a7a7a", "strokeWidth": 1.5}, "encoding": {"x": {"datum": 0, "type": "quantitative", "axis": null}, "x2": {"datum": 100}, "y": {"datum": -1.228, "type": "quantitative", "axis": null}}},
    {"data": {"name": "one"}, "mark": {"type": "rule", "stroke": "#000000", "strokeWidth": 3.5}, "encoding": {"x": {"datum": 0, "type": "quantitative", "axis": null}, "x2": {"datum": 100}, "y": {"datum": 0.5, "type": "quantitative", "axis": null}}},
    {"data": {"name": "one"}, "mark": {"type": "text", "align": "left", "baseline": "middle", "font": "Lato", "fontSize": 20, "color": "#111111"}, "encoding": {"x": {"datum": 0.37, "type": "quantitative", "axis": null}, "y": {"datum": -0.754, "type": "quantitative", "axis": null}, "text": {"value": "Protein"}}},
    {"data": {"name": "one"}, "mark": {"type": "text", "align": "left", "baseline": "middle", "font": "Lato", "fontSize": 20, "color": "#111111"}, "encoding": {"x": {"datum": 12.96, "type": "quantitative", "axis": null}, "y": {"datum": -0.754, "type": "quantitative", "axis": null}, "text": {"value": "Construction"}}},
    {"data": {"name": "one"}, "mark": {"type": "text", "align": "left", "baseline": "middle", "font": "Lato", "fontSize": 20, "color": "#111111"}, "encoding": {"x": {"datum": 13.7, "type": "quantitative", "axis": null}, "y": {"datum": 0.08, "type": "quantitative", "axis": null}, "text": {"value": "Name"}}},
    {"data": {"name": "one"}, "mark": {"type": "text", "align": "right", "baseline": "middle", "font": "Lato", "fontSize": 20, "color": "#111111"}, "encoding": {"x": {"datum": 48.8, "type": "quantitative", "axis": null}, "y": {"datum": -0.754, "type": "quantitative", "axis": null}, "text": {"value": "Affinity"}}},
    {"data": {"name": "one"}, "mark": {"type": "text", "align": "right", "baseline": "middle", "font": "Lato", "fontSize": 20, "color": "#111111"}, "encoding": {"x": {"datum": 48.8, "type": "quantitative", "axis": null}, "y": {"datum": 0.08, "type": "quantitative", "axis": null}, "text": {"value": "(µM)"}}},
    {"data": {"name": "one"}, "mark": {"type": "text", "align": "right", "baseline": "middle", "font": "Lato", "fontSize": 20, "color": "#111111"}, "encoding": {"x": {"datum": 72.73, "type": "quantitative", "axis": null}, "y": {"datum": -0.754, "type": "quantitative", "axis": null}, "text": {"value": "Confidence"}}},
    {"data": {"name": "one"}, "mark": {"type": "text", "align": "right", "baseline": "middle", "font": "Lato", "fontSize": 20, "color": "#111111"}, "encoding": {"x": {"datum": 72.73, "type": "quantitative", "axis": null}, "y": {"datum": 0.08, "type": "quantitative", "axis": null}, "text": {"value": "intervalle"}}},
    {"data": {"name": "one"}, "mark": {"type": "text", "align": "right", "baseline": "middle", "font": "Lato", "fontSize": 20, "color": "#111111"}, "encoding": {"x": {"datum": 99.5, "type": "quantitative", "axis": null}, "y": {"datum": -0.754, "type": "quantitative", "axis": null}, "text": {"value": "Maximal"}}},
    {"data": {"name": "one"}, "mark": {"type": "text", "align": "right", "baseline": "middle", "font": "Lato", "fontSize": 20, "color": "#111111"}, "encoding": {"x": {"datum": 99.5, "type": "quantitative", "axis": null}, "y": {"datum": 0.08, "type": "quantitative", "axis": null}, "text": {"value": "concentration (µM)"}}},
    {"data": {"name": "one"}, "mark": {"type": "text", "align": "left", "baseline": "middle", "fontSize": 19, "fontWeight": "bold", "color": "#000000"}, "encoding": {"x": {"datum": -10.14, "type": "quantitative", "axis": null}, "y": {"datum": -1.453, "type": "quantitative", "axis": null}, "text": {"value": "(C)"}}},
    {"data": {"name": "one"}, "mark": {"type": "text", "align": "left", "baseline": "bottom", "fontSize": 10, "opacity": 0}, "encoding": {"x": {"datum": 50, "type": "quantitative", "axis": null}, "y": {"datum": 10.737, "type": "quantitative", "axis": null}, "text": {"value": "."}}}
  ]
},
{
  "spacing": 2,
  "resolve": {"scale": {"x": "independent", "y": "independent"}},
  "hconcat": [
  {
    "width": 1, "height": 30,
    "layer": [
      {"data": {"name": "one"}, "mark": {"type": "text", "align": "left", "baseline": "middle", "fontSize": 19, "fontWeight": "bold", "color": "#000000"}, "encoding": {"x": {"datum": -55.4, "type": "quantitative", "scale": {"domain": [0, 1], "nice": false, "zero": false}, "axis": null}, "y": {"datum": 14, "type": "quantitative", "scale": {"domain": [0, 30], "reverse": true, "nice": false, "zero": false}, "axis": null}, "text": {"value": "(D)"}}}
    ]
  },
  {
    "width": 694, "height": 485,
    "layer": [
      {"data": {"name": "d_curve"}, "transform": [{"filter": "datum.s == 'g'"}], "mark": {"type": "line", "stroke": "#7fd3a8", "strokeWidth": 1.4, "interpolate": "monotone"},
       "encoding": {
        "x": {"field": "conc", "type": "quantitative", "scale": {"type": "log", "domain": [1.422e-11, 1e-4], "nice": false},
          "axis": {"title": "E2L3 Concentration (M)", "titleFontSize": 23, "titlePadding": 26, "labelOverlap": false,
            "values": [2.8e-11,4.5e-11,6.4e-11,8e-11,1e-10,2.8e-10,4.5e-10,6.4e-10,8e-10,1e-9,2.8e-9,4.5e-9,6.4e-9,8e-9,1e-8,2.8e-8,4.5e-8,6.4e-8,8e-8,1e-7,2.8e-7,4.5e-7,6.4e-7,8e-7,1e-6,2.8e-6,4.5e-6,6.4e-6,8e-6,1e-5,2.8e-5,4.5e-5,6.4e-5,8e-5,1e-4],
            "labelExpr": "abs(log(datum.value)/LN10 - round(log(datum.value)/LN10)) > 0.01 ? '' : ['','','','','1x10⁻⁴','1x10⁻⁵','1x10⁻⁶','1x10⁻⁷','1x10⁻⁸','1x10⁻⁹','1x10⁻¹⁰','1x10⁻¹¹'][round(-log(datum.value)/LN10)]",
            "labelFontSize": 17, "labelPadding": 16, "ticks": false, "domain": false, "grid": true, "gridWidth": 1.2,
            "gridColor": {"condition": {"test": "abs(log(datum.value)/LN10 - round(log(datum.value)/LN10)) < 0.01", "value": "#cfcfcf"}, "value": "#e8e8e8"}}},
        "y": {"field": "f", "type": "quantitative", "scale": {"domain": [-0.237, 1.219], "nice": false, "zero": false},
          "axis": {"title": "Fraction Bound", "titleFontSize": 25, "titlePadding": 57.5, "labels": false,
            "values": [-0.2,-0.16,-0.12,-0.08,-0.04,0,0.04,0.08,0.12,0.16,0.2,0.24,0.28,0.32,0.36,0.4,0.44,0.48,0.52,0.56,0.6,0.64,0.68,0.72,0.76,0.8,0.84,0.88,0.92,0.96,1,1.04,1.08,1.12,1.16,1.2],
            "ticks": false, "domainColor": "#c4c4c4", "domainWidth": 2.5,
            "grid": true, "gridColor": "#e4e4e4", "gridWidth": 1.1}}
       }},
      {"data": {"name": "one"}, "mark": {"type": "rect", "fill": "#ffffff"}, "encoding": {"x": {"datum": 2.65e-11, "type": "quantitative"}, "x2": {"datum": 2.158e-9}, "y": {"datum": 1.133, "type": "quantitative"}, "y2": {"datum": 1.03}}},
      {"data": {"name": "one"}, "mark": {"type": "rule", "stroke": "#d4d4d4", "strokeWidth": 1.6}, "encoding": {"x": {"datum": 1.422e-11, "type": "quantitative"}, "x2": {"datum": 1e-4}, "y": {"datum": 0.16, "type": "quantitative"}}},
      {"data": {"name": "one"}, "mark": {"type": "rect", "fill": "#ffffff"}, "encoding": {"x": {"datum": 1.905e-7, "type": "quantitative"}, "x2": {"datum": 1e-4}, "y": {"datum": 0.117, "type": "quantitative"}, "y2": {"datum": -0.066}}},
      {"data": {"name": "d_curve"}, "transform": [{"filter": "datum.s == 'r'"}], "mark": {"type": "line", "stroke": "#b3302b", "strokeWidth": 1.8, "strokeDash": [1.6, 1.4], "interpolate": "monotone"}, "encoding": {"x": {"field": "conc", "type": "quantitative"}, "y": {"field": "f", "type": "quantitative"}}},
      {"data": {"name": "d_pts"}, "transform": [{"filter": "datum.s == 'g' && isValid(datum.lo)"}], "mark": {"type": "rule", "stroke": "#8fd3b0", "strokeWidth": 1.3}, "encoding": {"x": {"field": "conc", "type": "quantitative"}, "y": {"field": "lo", "type": "quantitative"}, "y2": {"field": "hi"}}},
      {"data": {"name": "d_pts"}, "transform": [{"filter": "datum.s == 'g' && isValid(datum.lo)"}], "mark": {"type": "point", "shape": "M-1,0H1", "filled": false, "size": 56, "stroke": "#8fd3b0", "strokeWidth": 1.3, "opacity": 1}, "encoding": {"x": {"field": "conc", "type": "quantitative"}, "y": {"field": "lo", "type": "quantitative"}}},
      {"data": {"name": "d_pts"}, "transform": [{"filter": "datum.s == 'g' && isValid(datum.hi)"}], "mark": {"type": "point", "shape": "M-1,0H1", "filled": false, "size": 56, "stroke": "#8fd3b0", "strokeWidth": 1.3, "opacity": 1}, "encoding": {"x": {"field": "conc", "type": "quantitative"}, "y": {"field": "hi", "type": "quantitative"}}},
      {"data": {"name": "d_pts"}, "transform": [{"filter": "datum.s == 'r' && isValid(datum.lo)"}], "mark": {"type": "rule", "stroke": "#d48c8c", "strokeWidth": 1.3}, "encoding": {"x": {"field": "conc", "type": "quantitative"}, "y": {"field": "lo", "type": "quantitative"}, "y2": {"field": "hi"}}},
      {"data": {"name": "d_pts"}, "transform": [{"filter": "datum.s == 'r' && isValid(datum.lo)"}], "mark": {"type": "point", "shape": "M-1,0H1", "filled": false, "size": 56, "stroke": "#d48c8c", "strokeWidth": 1.3, "opacity": 1}, "encoding": {"x": {"field": "conc", "type": "quantitative"}, "y": {"field": "lo", "type": "quantitative"}}},
      {"data": {"name": "d_pts"}, "transform": [{"filter": "datum.s == 'r' && isValid(datum.hi)"}], "mark": {"type": "point", "shape": "M-1,0H1", "filled": false, "size": 56, "stroke": "#d48c8c", "strokeWidth": 1.3, "opacity": 1}, "encoding": {"x": {"field": "conc", "type": "quantitative"}, "y": {"field": "hi", "type": "quantitative"}}},
      {"data": {"name": "d_pts"}, "transform": [{"filter": "datum.s == 'g'"}], "mark": {"type": "circle", "size": 24, "fill": "#2aa866", "opacity": 1}, "encoding": {"x": {"field": "conc", "type": "quantitative"}, "y": {"field": "f", "type": "quantitative"}}},
      {"data": {"name": "d_pts"}, "transform": [{"filter": "datum.s == 'r'"}], "mark": {"type": "square", "size": 40, "fill": "#a30000", "opacity": 1}, "encoding": {"x": {"field": "conc", "type": "quantitative"}, "y": {"field": "f", "type": "quantitative"}}},
      {"data": {"name": "one"}, "mark": {"type": "rule", "stroke": "#111111", "strokeWidth": 1.5}, "encoding": {"x": {"datum": 2.009e-7, "type": "quantitative"}, "x2": {"datum": 7.015e-5}, "y": {"datum": 0.03, "type": "quantitative"}}},
      {"data": {"name": "one"}, "mark": {"type": "rule", "stroke": "#777777", "strokeWidth": 2.5}, "encoding": {"x": {"datum": 2.009e-7, "type": "quantitative"}, "x2": {"datum": 7.015e-5}, "y": {"datum": -0.06, "type": "quantitative"}}},
      {"data": {"name": "one"}, "mark": {"type": "text", "align": "center", "baseline": "middle", "fontSize": 15, "color": "#111111"}, "encoding": {"x": {"datum": 5.08e-7, "type": "quantitative"}, "y": {"datum": 0.065, "type": "quantitative"}, "text": {"value": "KD"}}},
      {"data": {"name": "one"}, "mark": {"type": "text", "align": "center", "baseline": "middle", "fontSize": 15, "color": "#111111"}, "encoding": {"x": {"datum": 9.4e-6, "type": "quantitative"}, "y": {"datum": 0.065, "type": "quantitative"}, "text": {"value": "Confidence intervalle"}}},
      {"data": {"name": "one"}, "mark": {"type": "text", "align": "center", "baseline": "middle", "fontSize": 15, "color": "#111111"}, "encoding": {"x": {"datum": 5.08e-7, "type": "quantitative"}, "y": {"datum": -0.025, "type": "quantitative"}, "text": {"value": "150 nM"}}},
      {"data": {"name": "one"}, "mark": {"type": "text", "align": "center", "baseline": "middle", "fontSize": 15, "color": "#111111"}, "encoding": {"x": {"datum": 9.4e-6, "type": "quantitative"}, "y": {"datum": -0.025, "type": "quantitative"}, "text": {"value": "60 - 250 nM"}}},
      {"data": {"name": "one"}, "mark": {"type": "text", "align": "left", "baseline": "middle", "fontSize": 22, "color": "#1a1a1a"}, "encoding": {"x": {"datum": 3.13e-11, "type": "quantitative"}, "y": {"datum": 1.093, "type": "quantitative"}, "text": {"value": "MuRF1"}}},
      {"data": {"name": "one"}, "mark": {"type": "text", "align": "left", "baseline": "middle", "fontSize": 14, "color": "#1a1a1a"}, "encoding": {"x": {"datum": 1.622e-10, "type": "quantitative"}, "y": {"datum": 1.07, "type": "quantitative"}, "text": {"value": "RM"}}},
      {"data": {"name": "one"}, "mark": {"type": "text", "align": "left", "baseline": "middle", "fontSize": 22, "color": "#1a1a1a"}, "encoding": {"x": {"datum": 2.95e-10, "type": "quantitative"}, "y": {"datum": 1.093, "type": "quantitative"}, "text": {"value": "vs E2L3"}}},
      {"data": {"name": "one"}, "mark": {"type": "text", "align": "right", "baseline": "middle", "fontSize": 20, "color": "#1a1a1a"}, "encoding": {"x": {"datum": 1.132e-11, "type": "quantitative"}, "y": {"datum": 1.2, "type": "quantitative"}, "text": {"value": "1.2"}}},
      {"data": {"name": "one"}, "mark": {"type": "text", "align": "right", "baseline": "middle", "fontSize": 20, "color": "#1a1a1a"}, "encoding": {"x": {"datum": 1.132e-11, "type": "quantitative"}, "y": {"datum": 1.0, "type": "quantitative"}, "text": {"value": "1.0"}}},
      {"data": {"name": "one"}, "mark": {"type": "text", "align": "right", "baseline": "middle", "fontSize": 20, "color": "#1a1a1a"}, "encoding": {"x": {"datum": 1.132e-11, "type": "quantitative"}, "y": {"datum": 0.8, "type": "quantitative"}, "text": {"value": "0.8"}}},
      {"data": {"name": "one"}, "mark": {"type": "text", "align": "right", "baseline": "middle", "fontSize": 20, "color": "#1a1a1a"}, "encoding": {"x": {"datum": 1.132e-11, "type": "quantitative"}, "y": {"datum": 0.6, "type": "quantitative"}, "text": {"value": "0.6"}}},
      {"data": {"name": "one"}, "mark": {"type": "text", "align": "right", "baseline": "middle", "fontSize": 20, "color": "#1a1a1a"}, "encoding": {"x": {"datum": 1.132e-11, "type": "quantitative"}, "y": {"datum": 0.4, "type": "quantitative"}, "text": {"value": "0.4"}}},
      {"data": {"name": "one"}, "mark": {"type": "text", "align": "right", "baseline": "middle", "fontSize": 20, "color": "#1a1a1a"}, "encoding": {"x": {"datum": 1.132e-11, "type": "quantitative"}, "y": {"datum": 0.2, "type": "quantitative"}, "text": {"value": "0.2"}}},
      {"data": {"name": "one"}, "mark": {"type": "text", "align": "right", "baseline": "middle", "fontSize": 20, "color": "#1a1a1a"}, "encoding": {"x": {"datum": 1.132e-11, "type": "quantitative"}, "y": {"datum": 0.0, "type": "quantitative"}, "text": {"value": "0"}}},
      {"data": {"name": "one"}, "mark": {"type": "text", "align": "right", "baseline": "middle", "fontSize": 20, "color": "#1a1a1a"}, "encoding": {"x": {"datum": 1.132e-11, "type": "quantitative"}, "y": {"datum": -0.2, "type": "quantitative"}, "text": {"value": "-0.2"}}}
    ]
  }
  ]
}
]
}
